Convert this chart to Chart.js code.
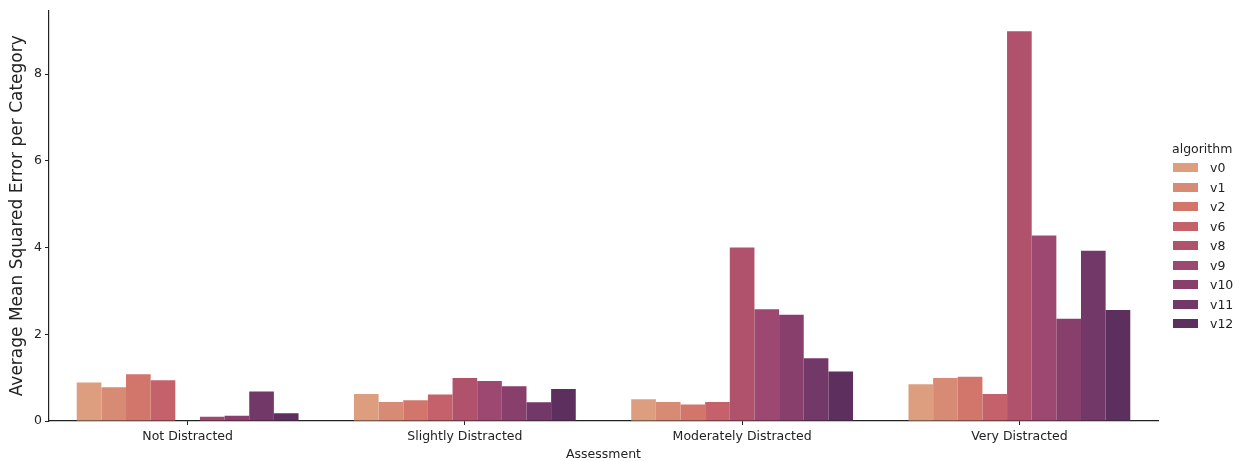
<!DOCTYPE html>
<html>
<head>
<meta charset="utf-8">
<script src="https://cdn.jsdelivr.net/npm/chart.js@4.4.1/dist/chart.umd.min.js"></script>
<style>
    html, body { margin: 0; padding: 0; background: #fff; }
    #wrap { position: relative; width: 1242px; height: 461px; }
    #legend {
        position: absolute; left: 1172px; top: 139px;
        font-family: 'DejaVu Sans', sans-serif; font-size: 12.5px; color: #222;
    }
    #legend .title { height: 19px; line-height: 19px; }
    #legend .item { height: 19.5px; display: flex; align-items: center; }
    #legend .sw { width: 25px; height: 9px; margin: 0 12px 0 1px; }
</style>
</head>
<body>
<div id="wrap">
    <canvas id="bars" width="1242" height="461"></canvas>
    <div id="legend"></div>
</div>
<script>
// Categorías y series
const categories = ['Not Distracted', 'Slightly Distracted', 'Moderately Distracted', 'Very Distracted'];
const algorithms = ['v0', 'v1', 'v2', 'v6', 'v8', 'v9', 'v10', 'v11', 'v12'];

const v0  = [0.89, 0.62, 0.50, 0.85];
const v1  = [0.78, 0.44, 0.44, 0.99];
const v2  = [1.08, 0.48, 0.38, 1.02];
const v6  = [0.94, 0.61, 0.44, 0.62];
const v8  = [null, 0.99, 4.00, 8.99];
const v9  = [0.10, 0.92, 2.58, 4.28];
const v10 = [0.12, 0.80, 2.45, 2.36];
const v11 = [0.68, 0.43, 1.45, 3.93];
const v12 = [0.18, 0.74, 1.14, 2.56];

const yTicks = [0, 2, 4, 6, 8];

const PALETTE = ['#dd9e80', '#d78a74', '#d2766c', '#c4616b', '#b0526c',
                 '#9c4870', '#883f6c', '#723868', '#5d2f5f'];

const seriesValues = [v0, v1, v2, v6, v8, v9, v10, v11, v12];
const FONT = "'DejaVu Sans', sans-serif";

const datasets = algorithms.map((name, i) => ({
    label: name,
    data: seriesValues[i],
    backgroundColor: PALETTE[i],
    borderWidth: 0,
    categoryPercentage: 0.8,
    barPercentage: 1.0,
}));

const ctx = document.getElementById('bars').getContext('2d');
const chart = new Chart(ctx, {
    type: 'bar',
    data: { labels: categories, datasets },
    options: {
        responsive: false,
        animation: false,
        layout: { padding: { top: 7, right: 84, left: 0, bottom: 0 } },
        plugins: {
            legend: { display: false },
            tooltip: { enabled: false },
        },
        scales: {
            x: {
                grid: { display: true, offset: false, drawOnChartArea: false, drawTicks: true, tickLength: 4, color: '#222' },
                border: { display: true, color: '#222', width: 1.2 },
                ticks: { font: { family: FONT, size: 12.5 }, color: '#222', padding: 4 },
                title: {
                    display: true, text: 'Assessment',
                    font: { family: FONT, size: 12.5, lineHeight: 1.0 }, color: '#222', padding: { top: 2, bottom: 0 },
                },
                afterFit: (axis) => { axis.height = 40; },
            },
            y: {
                min: 0,
                max: 9.47,
                grid: { display: true, drawOnChartArea: false, drawTicks: true, tickLength: 4, color: '#222' },
                border: { display: true, color: '#222', width: 1.2 },
                ticks: {
                    stepSize: 2,
                    includeBounds: false,
                    font: { family: FONT, size: 12.5 }, color: '#222', padding: 3,
                    callback: (v) => yTicks.includes(v) ? String(v) : '',
                },
                title: {
                    display: true, text: 'Average Mean Squared Error per Category',
                    font: { family: FONT, size: 17 }, color: '#222', padding: { top: 7, bottom: 4 },
                },
                afterFit: (axis) => { axis.width = 49; },
            },
        },
    },
});

// Leyenda HTML (estilo matplotlib)
const legend = document.getElementById('legend');
legend.innerHTML = `<div class="title">algorithm</div>` + algorithms.map((name, i) =>
    `<div class="item"><span class="sw" style="background:${PALETTE[i]}"></span>${name}</div>`
).join('');
</script>
</body>
</html>
